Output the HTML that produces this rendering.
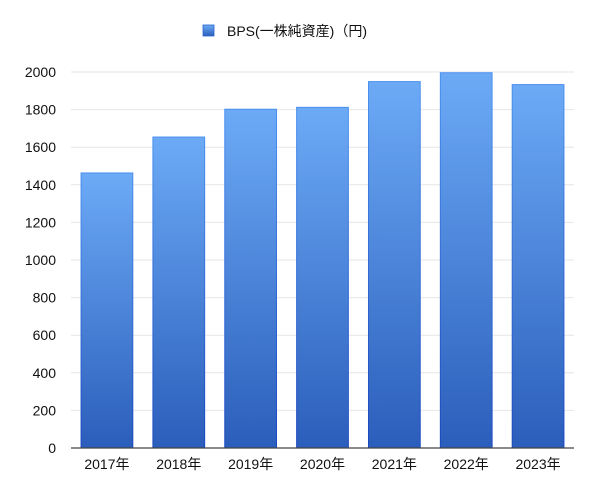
<!DOCTYPE html>
<html><head><meta charset="utf-8"><style>
body{margin:0;background:#fff;}
svg text{font-family:"Liberation Sans","Noto Sans CJK JP",sans-serif;fill:#111;}
</style></head><body>
<svg id="chart" width="600" height="499" xmlns="http://www.w3.org/2000/svg">
<defs>
<linearGradient id="bg" x1="0" y1="0" x2="0" y2="1">
<stop offset="0" stop-color="#6caaf6"/><stop offset="1" stop-color="#2b5ebb"/>
</linearGradient>
<linearGradient id="bs" x1="0" y1="0" x2="0" y2="1">
<stop offset="0" stop-color="#4a90f0"/><stop offset="1" stop-color="#1a47c0"/>
</linearGradient>
<linearGradient id="lg" x1="0" y1="0" x2="0" y2="1">
<stop offset="0" stop-color="#6caaf6"/><stop offset="1" stop-color="#2b5ebb"/>
</linearGradient>
</defs>
<g>
<rect x="203" y="25" width="11" height="11" fill="url(#lg)" stroke="#2a64d0" stroke-width="0.8"/>
<text x="227" y="36" font-size="14">BPS(一株純資産)（円)</text>
</g>
<g id="grid"></g><g id="bars"></g><g id="axes"></g>
</svg>
<script>
const categories=["2017年","2018年","2019年","2020年","2021年","2022年","2023年"];
const values=[1463,1654,1802,1812,1949,1996,1933];
const yTicks=[0,200,400,600,800,1000,1200,1400,1600,1800,2000];
const NS="http://www.w3.org/2000/svg";
const L=71,R=574,T=72,B=448,yMax=2000;
const y=v=>B-(v/yMax)*(B-T);
const band=(R-L)/categories.length;
const x=i=>L+band*i;
function mk(tag,attrs,parent){const e=document.createElementNS(NS,tag);for(const k in attrs)e.setAttribute(k,attrs[k]);parent.appendChild(e);return e;}
const grid=document.getElementById('grid'),bars=document.getElementById('bars'),axes=document.getElementById('axes');
yTicks.forEach(t=>{
 if(t>0){const g=mk('line',{x1:L,x2:R,y1:y(t),y2:y(t),stroke:'#e6e6e6','stroke-width':1},grid);
 
 }
 const tx=mk('text',{x:56,y:y(t)+5,'text-anchor':'end','font-size':14},axes);
 tx.textContent=t;
 
 
});
categories.forEach((c,i)=>{
 const bw=band*0.72,bx=x(i)+(band-bw)/2;
 const r=mk('rect',{x:bx,y:y(values[i]),width:bw,height:B-y(values[i]),fill:'url(#bg)',stroke:'url(#bs)','stroke-width':1},bars);
 
 
 const tx=mk('text',{x:x(i)+band/2,y:469,'text-anchor':'middle','font-size':14},axes);
 tx.textContent=c;
 
 
});
const ax=mk('line',{x1:L,x2:R,y1:B,y2:B,stroke:'#444','stroke-width':1.2},axes);


</script>
</body></html>
